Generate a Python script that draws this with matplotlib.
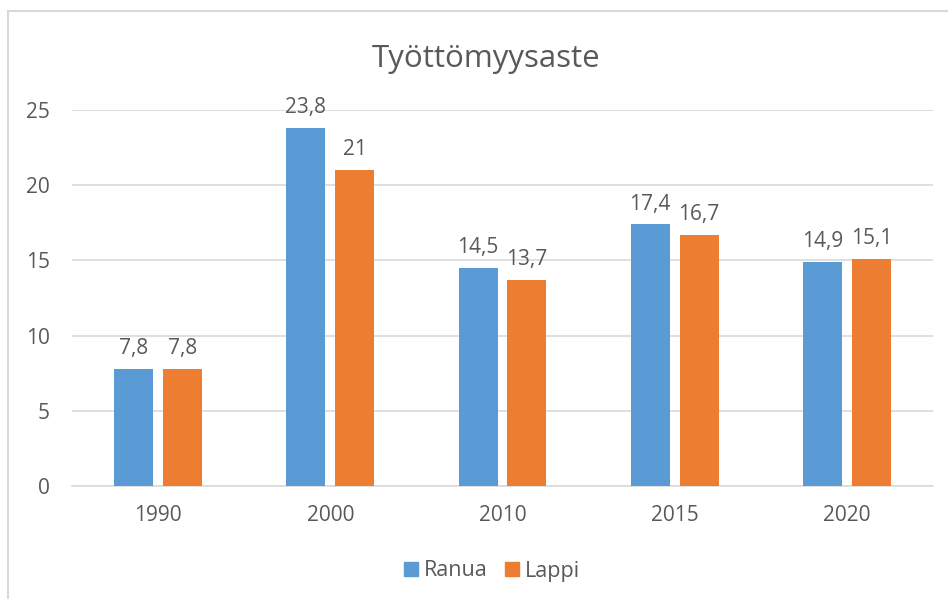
import matplotlib
matplotlib.use("Agg")
import matplotlib.pyplot as plt
import numpy as np
from matplotlib.lines import Line2D

years = ["1990", "2000", "2010", "2015", "2020"]
ranua = [7.8, 23.8, 14.5, 17.4, 14.9]
lappi = [7.8, 21.0, 13.7, 16.7, 15.1]
ranua_labels = ["7,8", "23,8", "14,5", "17,4", "14,9"]
lappi_labels = ["7,8", "21", "13,7", "16,7", "15,1"]

plt.rcParams['font.family'] = ['Open Sans', 'DejaVu Sans']
gray = "#595959"
c_r = "#5B9BD5"
c_l = "#ED7D31"

fig = plt.figure(figsize=(9.48, 5.99), dpi=100)
ax = fig.add_axes([72/948, 1-486/599, (933-72)/948, (486-110)/599])

x = np.arange(len(years))
w = 0.227
off = 0.142
b1 = ax.bar(x - off, ranua, w, color=c_r, zorder=3)
b2 = ax.bar(x + off, lappi, w, color=c_l, zorder=3)
for bars, labs in ((b1, ranua_labels), (b2, lappi_labels)):
    for r, t in zip(bars, labs):
        ax.annotate(t, (r.get_x() + r.get_width()/2, r.get_height()),
                    xytext=(0, 7), textcoords="offset points",
                    ha="center", va="bottom", fontsize=15, color=gray)

ax.set_xlim(-0.5, len(years) - 0.5)
ax.set_ylim(0, 25)
ax.set_yticks([0, 5, 10, 15, 20, 25])
ax.set_xticks(x)
ax.set_xticklabels(years)
ax.tick_params(axis='both', length=0, labelsize=15, labelcolor=gray)
ax.tick_params(axis='y', pad=16)
ax.tick_params(axis='x', pad=14)
ax.grid(axis='y', color="#D9D9D9", linewidth=1.2, zorder=0)
for s in ["top", "right", "left"]:
    ax.spines[s].set_visible(False)
ax.spines["bottom"].set_color("#D9D9D9")
ax.spines["bottom"].set_linewidth(1.2)

fig.text(486/948, 1-59/599, "Työttömyysaste", ha="center", va="center",
         fontsize=22.5, color=gray)

handles = [Line2D([], [], marker='s', linestyle='', markersize=10, color=c_r),
           Line2D([], [], marker='s', linestyle='', markersize=10, color=c_l)]
fig.legend(handles, ["Ranua", "Lappi"], loc="center", bbox_to_anchor=(490/948, 1-571/599),
           ncol=2, frameon=False, fontsize=15.5, labelcolor=gray, handletextpad=0.1,
           columnspacing=0.6, handlelength=1.0)

# chart frame (top and left edges visible)
fig.add_artist(Line2D([8/948, 8/948], [0, 1-11/599], transform=fig.transFigure,
                      color="#D9D9D9", linewidth=1.5))
fig.add_artist(Line2D([8/948, 1], [1-11/599, 1-11/599], transform=fig.transFigure,
                      color="#D9D9D9", linewidth=1.5))

fig.savefig("out.png", dpi=100)
